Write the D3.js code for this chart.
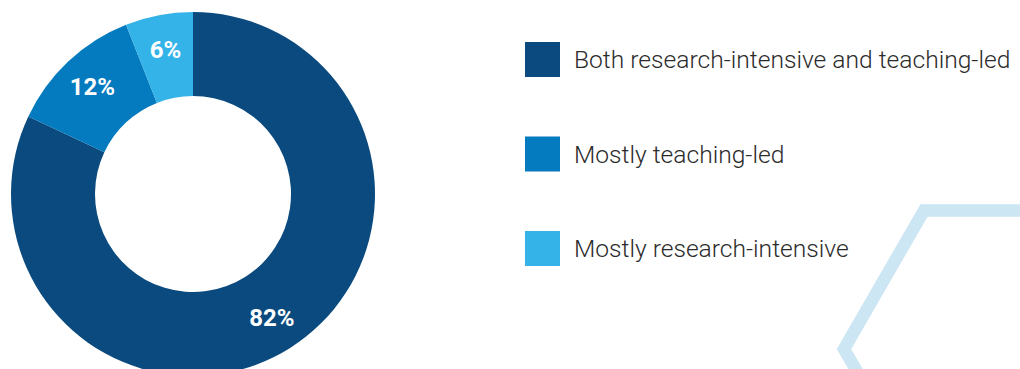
<!DOCTYPE html>
<html>
<head>
<meta charset="utf-8">
<script src="https://cdn.jsdelivr.net/npm/d3@7"></script>
<style>
  html, body { margin: 0; padding: 0; background: #fff; }
  svg { display: block; }
</style>
</head>
<body>
<svg id="chart" width="1020" height="369"></svg>
<script>
// Institution types and their share of respondents (%)
const categories = [
  "Both research-intensive and teaching-led",
  "Mostly teaching-led",
  "Mostly research-intensive"
];
const values = [82, 12, 6];
const colors = ["#0a4a7e", "#047abf", "#33b3e8"];

const svg = d3.select("#chart");

// Decorative hexagon outline at the right edge
const hexCenter = [1004, 349], hexSide = 160;
const hexPts = d3.range(7).map(i => {
  const a = Math.PI / 3 * i;
  return [hexCenter[0] + hexSide * Math.cos(a), hexCenter[1] + hexSide * Math.sin(a)];
});
svg.append("path")
  .attr("d", d3.line()(hexPts))
  .attr("fill", "none")
  .attr("stroke", "#cde6f3")
  .attr("stroke-width", 12.5)
  .attr("stroke-linejoin", "miter");

// Donut
const cx = 193, cy = 194, outerR = 182, innerR = 98, labelR = 147;
const pie = d3.pie().sort(null).value(d => d);
const arcs = pie(values);
const arc = d3.arc().innerRadius(innerR).outerRadius(outerR);
const labelArc = d3.arc().innerRadius(labelR).outerRadius(labelR);

const g = svg.append("g").attr("transform", `translate(${cx},${cy})`);
g.selectAll("path.slice")
  .data(arcs)
  .join("path")
  .attr("class", "slice")
  .attr("d", arc)
  .attr("fill", (d, i) => colors[i]);

g.selectAll("text.pct")
  .data(arcs)
  .join("text")
  .attr("class", "pct")
  .attr("transform", d => `translate(${labelArc.centroid(d)})`)
  .attr("text-anchor", "middle")
  .attr("dominant-baseline", "central")
  .attr("font-family", "Roboto, 'Noto Sans', sans-serif")
  .attr("font-weight", 700)
  .attr("font-size", 24)
  .attr("fill", "#fff")
  .text(d => d.data + "%");

// Legend
const legendX = 525, legendY0 = 42, legendStep = 94.5, sw = 35;
const leg = svg.append("g");
const items = leg.selectAll("g.item")
  .data(categories)
  .join("g")
  .attr("class", "item")
  .attr("transform", (d, i) => `translate(${legendX},${legendY0 + i * legendStep})`);
items.append("rect")
  .attr("width", sw).attr("height", sw)
  .attr("fill", (d, i) => colors[i]);
items.append("text")
  .attr("x", 49)
  .attr("y", sw / 2)
  .attr("dominant-baseline", "central")
  .attr("font-family", "Roboto, 'Noto Sans', sans-serif")
  .attr("font-weight", 300)
  .attr("font-size", 24.6)
  .attr("fill", "#2b2b2b")
  .text(d => d);
</script>
</body>
</html>
